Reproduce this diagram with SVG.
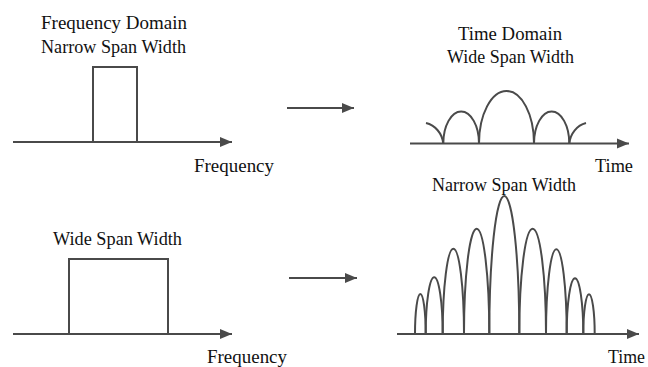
<svg xmlns="http://www.w3.org/2000/svg" width="648" height="367" viewBox="0 0 648 367">
<defs>
<style>
.t{font-family:"Liberation Serif","Times New Roman",serif;font-size:19px;fill:#111}
.ln{stroke:#4a4a4a;stroke-width:2;fill:none}
</style>
<marker id="ah" markerUnits="userSpaceOnUse" markerWidth="12" markerHeight="12" viewBox="0 0 12 12" refX="12" refY="6" orient="auto">
<path d="M0,1 L12,6 L0,11 Z" fill="#4a4a4a"/>
</marker>
</defs>
<rect width="648" height="367" fill="#fff"/>

<g id="freq-narrow">
<text class="t" x="41" y="29" textLength="146" lengthAdjust="spacingAndGlyphs">Frequency Domain</text>
<text class="t" x="41" y="53" textLength="145" lengthAdjust="spacingAndGlyphs">Narrow Span Width</text>
<rect class="ln" x="93" y="67" width="44" height="75"/>
<text class="t" x="194" y="172" textLength="80" lengthAdjust="spacingAndGlyphs">Frequency</text>
</g>

<g id="time-wide">
<text class="t" x="458" y="40" textLength="104" lengthAdjust="spacingAndGlyphs">Time Domain</text>
<text class="t" x="447" y="63" textLength="127" lengthAdjust="spacingAndGlyphs">Wide Span Width</text>
<path class="ln" d="M426,123 A22 24 0 0 1 443.3,143.5"/>
<path class="ln" d="M443.3,143.5 A17.85 32 0 0 1 479,143.5"/>
<path class="ln" d="M479,143.5 A27.5 52.5 0 0 1 534,143.5"/>
<path class="ln" d="M534,143.5 A17.65 32 0 0 1 569.3,143.5"/>
<path class="ln" d="M569.3,143.5 A22 24 0 0 1 586,123"/>
<text class="t" x="595" y="172" textLength="38" lengthAdjust="spacingAndGlyphs">Time</text>
</g>

<g id="freq-wide">
<text class="t" x="53" y="245" textLength="129" lengthAdjust="spacingAndGlyphs">Wide Span Width</text>
<rect class="ln" x="69" y="259" width="99" height="75"/>
<text class="t" x="207" y="363" textLength="80" lengthAdjust="spacingAndGlyphs">Frequency</text>
</g>

<g id="time-narrow">
<text class="t" x="432" y="191" textLength="144" lengthAdjust="spacingAndGlyphs">Narrow Span Width</text>
<path class="ln" d="M415,334 A5.35 40 0 0 1 425.7,334"/>
<path class="ln" d="M425.7,334 A8.5 56.7 0 0 1 442.7,334"/>
<path class="ln" d="M442.7,334 A10.65 85.3 0 0 1 464,334"/>
<path class="ln" d="M464,334 A12.65 105.3 0 0 1 489.3,334"/>
<path class="ln" d="M489.3,334 A15 138 0 0 1 519.3,334"/>
<path class="ln" d="M519.3,334 A13.35 105.3 0 0 1 546,334"/>
<path class="ln" d="M546,334 A10.35 84.7 0 0 1 566.7,334"/>
<path class="ln" d="M566.7,334 A8.3 55.7 0 0 1 583.3,334"/>
<path class="ln" d="M583.3,334 A5.7 39.7 0 0 1 594.7,334"/>
<text class="t" x="608" y="363" textLength="37" lengthAdjust="spacingAndGlyphs">Time</text>
</g>

<g id="connectors">
<line class="ln" x1="13" y1="142" x2="232" y2="142" marker-end="url(#ah)"/>
<line class="ln" x1="410" y1="143.5" x2="629" y2="143.5" marker-end="url(#ah)"/>
<line class="ln" x1="13" y1="334" x2="232" y2="334" marker-end="url(#ah)"/>
<line class="ln" x1="397" y1="334" x2="639" y2="334" marker-end="url(#ah)"/>
<line class="ln" x1="287" y1="108" x2="354" y2="108" marker-end="url(#ah)"/>
<line class="ln" x1="289" y1="278" x2="357" y2="278" marker-end="url(#ah)"/>
</g>
</svg>
